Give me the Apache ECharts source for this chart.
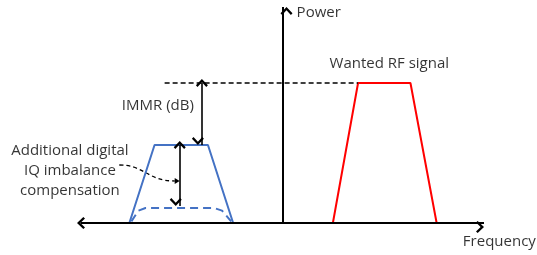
<!DOCTYPE html>
<html>
<head>
<meta charset="utf-8">
<script src="https://cdn.jsdelivr.net/npm/echarts@6/dist/echarts.min.js"></script>
<style>
  html, body { margin: 0; padding: 0; background: #fff; }
  #chart { width: 537px; height: 255px; }
</style>
</head>
<body>
<div id="chart"></div>
<script>
// axis ranges: frequency (arbitrary units, 0 = LO) and power (dB-ish units)
const freqRange = [-20, 20];
const powerRange = [0, 54];

// wanted RF signal (red) and its mirror image (blue), [frequency, power]
const wantedSignal = [[5.0, 0], [7.5, 35], [12.7, 35], [15.3, 0]];
const imageSignal = [[-15.2, 0], [-12.7, 19.5], [-7.4, 19.5], [-4.9, 0]];
const compensatedImage = [[-15.0, 0.4], [-14.3, 3.1], [-13.6, 3.75], [-6.8, 3.75], [-6.0, 3.1], [-5.1, 0.4]];

// level of the wanted signal, IMMR arrow, compensation arrow
const wantedLevel = [[-11.7, 35], [7.5, 35]];
const immrArrow = [[-8.0, 35], [-8.0, 19.5]];
const compArrow = [[-10.2, 19.5], [-10.2, 4.25]];
// curved pointer from the label to the compensation arrow (bezier points)
const pointerCurve = [[-16.2, 14.5], [-13.7, 14.5], [-13.4, 10.5], [-10.7, 10.5]];

const labelTexts = ["Power", "Wanted RF signal", "IMMR (dB)", "Additional digital\nIQ imbalance\ncompensation", "Frequency"];
const labelAnchors = [[1.4, 52.5], [10.6, 39.75], [-8.8, 29.3], [-21.1, 13], [17.9, -4.75]];
const labelAligns = ["left", "center", "right", "center", "left"];

const chevron = "path://M0,0L6,6L4.4,7.6L0,3.2L-4.4,7.6L-6,6Z";

const chart = echarts.init(document.getElementById("chart"));

chart.setOption({
  animation: false,
  grid: { left: 81, right: 53, top: 7, bottom: 32 },
  xAxis: { type: "value", min: freqRange[0], max: freqRange[1], show: false },
  yAxis: { type: "value", min: powerRange[0], max: powerRange[1], show: false },
  series: [
    {
      type: "line",
      data: compensatedImage,
      symbol: "none",
      silent: true,
      lineStyle: { color: "#4472C4", width: 2, type: [8, 5] },
    },
    {
      type: "line",
      data: imageSignal,
      symbol: "none",
      silent: true,
      lineStyle: { color: "#4472C4", width: 2 },
      markLine: {
        silent: true,
        symbol: [chevron, chevron],
        symbolSize: [12, 8],
        symbolOffset: [0, 4],
        label: { show: false },
        lineStyle: { color: "#000", width: 2, type: "solid" },
        data: [
          [{ coord: [freqRange[0], 0] }, { coord: [freqRange[1], 0] }],
          [{ coord: [0, 0], symbol: "none" }, { coord: [0, powerRange[1]] }],
          [{ coord: immrArrow[0], lineStyle: { width: 1.6 } }, { coord: immrArrow[1] }],
          [{ coord: compArrow[0], lineStyle: { width: 1.6 } }, { coord: compArrow[1] }],
          [
            { coord: wantedLevel[0], symbol: "none", lineStyle: { width: 1.5, type: [5, 3] } },
            { coord: wantedLevel[1], symbol: "none" },
          ],
        ],
      },
    },
    {
      type: "line",
      data: wantedSignal,
      symbol: "none",
      silent: true,
      lineStyle: { color: "#FF0000", width: 2 },
    },
    {
      type: "custom",
      coordinateSystem: "cartesian2d",
      data: [0],
      silent: true,
      clip: false,
      renderItem: (params, api) => {
        const p = pointerCurve.map((pt) => api.coord(pt));
        const end = p[3];
        const ang = Math.atan2(end[1] - p[2][1], end[0] - p[2][0]);
        const c = Math.cos(ang), s = Math.sin(ang);
        const tip = [end[0] + c * 5, end[1] + s * 5];
        const left = [end[0] - s * 3, end[1] + c * 3];
        const right = [end[0] + s * 3, end[1] - c * 3];
        return {
          type: "group",
          children: [
            {
              type: "bezierCurve",
              shape: {
                x1: p[0][0], y1: p[0][1],
                cpx1: p[1][0], cpy1: p[1][1],
                cpx2: p[2][0], cpy2: p[2][1],
                x2: end[0], y2: end[1],
              },
              style: { stroke: "#000", fill: null, lineWidth: 1.3, lineDash: [4, 3] },
            },
            { type: "polygon", shape: { points: [tip, left, right] }, style: { fill: "#000" } },
          ],
        };
      },
    },
    {
      type: "scatter",
      symbolSize: 0,
      clip: false,
      silent: true,
      data: labelTexts.map((t, i) => ({
        name: t,
        value: labelAnchors[i],
        label: { align: labelAligns[i] },
      })),
      label: {
        show: true,
        position: "inside",
        formatter: "{b}",
        color: "#000",
        fontFamily: "Open Sans",
        fontSize: 15,
        lineHeight: 20,
      },
    },
  ],
});

window.addEventListener("resize", () => {
  chart.resize();
});
</script>
</body>
</html>
